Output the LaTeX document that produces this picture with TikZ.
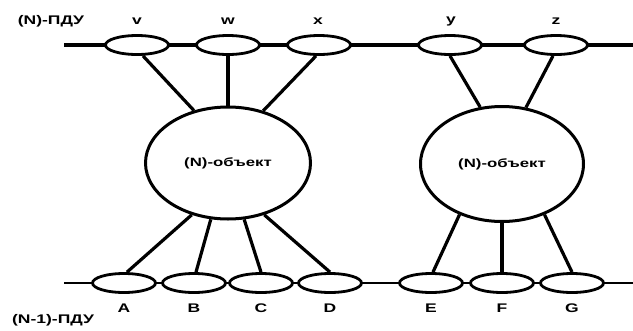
\documentclass[tikz,border=0pt]{standalone}
\usepackage{fontspec}
\setmainfont{Liberation Sans}[FakeStretch=1.4]
\usetikzlibrary{shapes.geometric}
\begin{document}
\begin{tikzpicture}[x=1pt,y=-1pt,
  sap/.style={ellipse,draw,fill=white,line width=2.8pt,minimum width=63pt,minimum height=19pt,inner sep=0pt},
  ent/.style={ellipse,draw,fill=white,line width=3pt,minimum width=165pt,minimum height=112pt,inner sep=0pt,font=\fontsize{12}{14}\selectfont\bfseries},
  lab/.style={inner sep=0pt,font=\fontsize{12.5}{14}\selectfont\bfseries},
  conn/.style={line width=3.2pt}]
\useasboundingbox (0,0) rectangle (633,330);
\coordinate (tl) at (64,45);
\coordinate (tr) at (633,45);
\coordinate (bl) at (64,283);
\coordinate (br) at (633,283);
\draw[line width=4pt] (tl) -- (tr);
\draw[line width=2.4pt] (bl) -- (br);
% top SAPs
\node[sap] (v) at (137,45) {};
\node[sap] (w) at (228,45) {};
\node[sap] (x) at (319,45) {};
\node[sap] (y) at (450,45) {};
\node[sap] (z) at (556,45) {};
% bottom SAPs
\node[sap] (A) at (124,283) {};
\node[sap] (B) at (194,283) {};
\node[sap] (C) at (261,283) {};
\node[sap] (D) at (330,283) {};
\node[sap] (E) at (431,283) {};
\node[sap] (F) at (502,283) {};
\node[sap] (G) at (572,283) {};
% entities
\node[ent] (L) at (228,163) {(N)-объект};
\node[ent,minimum width=163pt,minimum height=115pt] (R) at (502,164) {(N)-объект};
% connectors
\draw[conn] ([xshift=6pt]v.south) -- (L.123);
\draw[conn] (w.south) -- (L.north);
\draw[conn] ([xshift=-3pt]x.south) -- (L.56);
\draw[conn] (y.south) -- (R.111);
\draw[conn] ([xshift=-3pt]z.south) -- (R.67);
\draw[conn] (L.235) -- ([xshift=3pt]A.north);
\draw[conn] (L.253) -- ([xshift=2pt]B.north);
\draw[conn] (L.286) -- (C.north);
\draw[conn] (L.305) -- (D.north);
\draw[conn] (R.230) -- ([xshift=2pt]E.north);
\draw[conn] (R.south) -- (F.north);
\draw[conn] (R.310) -- (G.north);
% labels
\node[lab] (lv) at (137,21) {v};
\node[lab] (lw) at (228,21) {w};
\node[lab] (lx) at (318,21) {x};
\node[lab] (ly) at (451,21) {y};
\node[lab] (lz) at (556,21) {z};
\node[lab] (lA) at (124,308) {A};
\node[lab] (lB) at (194,308) {B};
\node[lab] (lC) at (261,308) {C};
\node[lab] (lD) at (330,308) {D};
\node[lab] (lE) at (431,308) {E};
\node[lab] (lF) at (502,308) {F};
\node[lab] (lG) at (572,308) {G};
\node[lab] (top) at (51,21) {(N)-ПДУ};
\node[lab] (bot) at (53,320) {(N-1)-ПДУ};
\end{tikzpicture}
\end{document}
